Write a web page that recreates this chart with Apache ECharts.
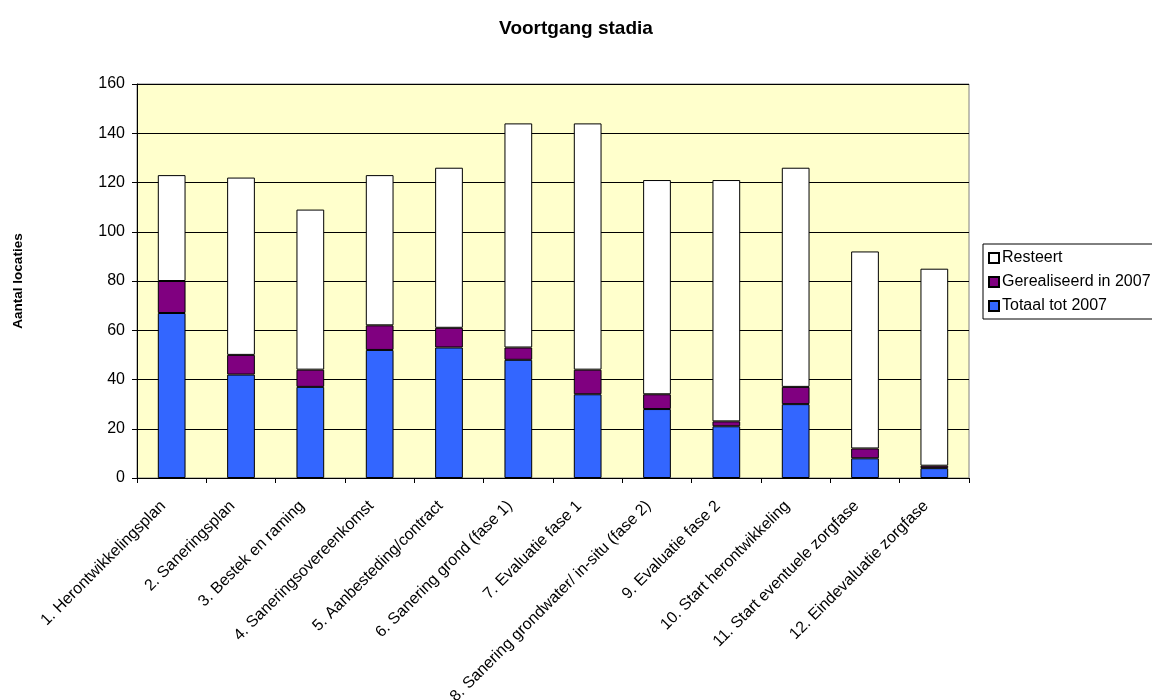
<!DOCTYPE html>
<html>
<head>
<meta charset="utf-8">
<title>Voortgang stadia</title>
<script src="https://cdn.jsdelivr.net/npm/echarts@6/dist/echarts.min.js"></script>
<style>
  html, body { margin: 0; padding: 0; background: #ffffff; }
  #chart { width: 1152px; height: 700px; }
</style>
</head>
<body>
<div id="chart"></div>
<script>
// Stages of the remediation process
const stadia = [
  '1. Herontwikkelingsplan',
  '2. Saneringsplan',
  '3. Bestek en raming',
  '4. Saneringsovereenkomst',
  '5. Aanbesteding/contract',
  '6. Sanering grond (fase 1)',
  '7. Evaluatie fase 1',
  '8. Sanering grondwater/ in-situ (fase 2)',
  '9. Evaluatie fase 2',
  '10. Start herontwikkeling',
  '11. Start eventuele zorgfase',
  '12. Eindevaluatie zorgfase'
];

// Number of locations per stage
const totaalTot2007      = [67, 42, 37, 52, 53, 48, 34, 28, 21, 30, 8, 4];
const gerealiseerdIn2007 = [13,  8,  7, 10,  8,  5, 10,  6,  2,  7, 4, 1];
const resteert           = [43, 72, 65, 61, 65, 91, 100, 87, 98, 89, 80, 80];

const yTicks = { min: 0, max: 160, interval: 20 };

const FONT = 'Liberation Sans, Arial, sans-serif';
const barBorder = { borderColor: '#000000', borderWidth: 1 };

const chart = echarts.init(document.getElementById('chart'), null, { renderer: 'canvas' });

chart.setOption({
  animation: false,
  backgroundColor: '#ffffff',
  title: {
    text: 'Voortgang stadia',
    left: 'center',
    top: 14,
    textStyle: { fontFamily: FONT, fontSize: 19, fontWeight: 'bold', color: '#000000' }
  },
  legend: {
    orient: 'vertical',
    left: 983,
    top: 244,
    padding: [6, 30, 5, 5],
    itemGap: 8,
    itemWidth: 10,
    itemHeight: 10,
    icon: 'rect',
    borderColor: '#000000',
    borderWidth: 1,
    backgroundColor: '#ffffff',
    textStyle: { fontFamily: FONT, fontSize: 16, color: '#000000', padding: [0, 0, 0, -2] },
    data: ['Resteert', 'Gerealiseerd in 2007', 'Totaal tot 2007']
  },
  grid: {
    left: 137,
    right: 183,
    top: 84,
    bottom: 222,
    containLabel: false,
    outerBoundsMode: 'none',
    show: true,
    backgroundColor: '#ffffcc',
    borderColor: '#808080',
    borderWidth: 1
  },
  xAxis: {
    type: 'category',
    data: stadia,
    axisLine: { show: true, lineStyle: { color: '#000000', width: 1 } },
    axisTick: { show: true, length: 5, lineStyle: { color: '#000000' } },
    axisLabel: {
      rotate: 45,
      interval: 0,
      margin: 17,
      padding: [0, 12, 0, 0],
      fontFamily: FONT,
      fontSize: 16,
      color: '#000000'
    }
  },
  yAxis: {
    type: 'value',
    min: yTicks.min,
    max: yTicks.max,
    interval: yTicks.interval,
    name: 'Aantal locaties',
    nameLocation: 'middle',
    nameGap: 112,
    nameRotate: 90,
    nameTextStyle: { fontFamily: FONT, fontSize: 13.5, fontWeight: 'bold', color: '#000000' },
    axisLine: { show: true, lineStyle: { color: '#000000', width: 1 } },
    axisTick: { show: true, length: 5, lineStyle: { color: '#000000' } },
    axisLabel: { fontFamily: FONT, fontSize: 16, color: '#000000', margin: 12 },
    splitLine: { show: true, lineStyle: { color: '#000000', width: 1 } }
  },
  series: [
    {
      name: 'Totaal tot 2007',
      type: 'bar',
      stack: 'stadia',
      barWidth: '40%',
      data: totaalTot2007,
      itemStyle: Object.assign({ color: '#3366ff' }, barBorder)
    },
    {
      name: 'Gerealiseerd in 2007',
      type: 'bar',
      stack: 'stadia',
      data: gerealiseerdIn2007,
      itemStyle: Object.assign({ color: '#800080' }, barBorder)
    },
    {
      name: 'Resteert',
      type: 'bar',
      stack: 'stadia',
      data: resteert,
      itemStyle: Object.assign({ color: '#ffffff' }, barBorder)
    }
  ]
});
</script>
</body>
</html>
